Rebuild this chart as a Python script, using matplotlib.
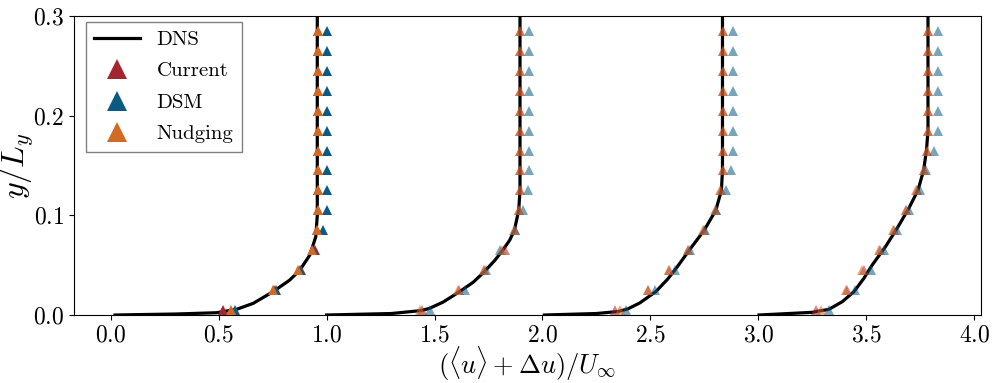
import numpy as np
import matplotlib
matplotlib.use("Agg")
import matplotlib.pyplot as plt

plt.rcParams['font.family'] = 'serif'
plt.rcParams['font.serif'] = ['cmr10']
plt.rcParams['mathtext.fontset'] = 'cm'
plt.rcParams['axes.formatter.use_mathtext'] = True

# LES sample heights (y/Ly)
y_les = [0.005, 0.025, 0.045, 0.065, 0.085, 0.105, 0.125, 0.145,
         0.165, 0.185, 0.205, 0.225, 0.245, 0.265, 0.285, 0.305]

# DNS profiles (shifted by Delta u)
dns_x1 = [0.02, 0.10, 0.30, 0.49, 0.583, 0.66, 0.752, 0.829, 0.876, 0.922, 0.950, 0.957, 0.957]
dns_y1 = [0.0, 0.0003, 0.001, 0.0023, 0.0057, 0.0117, 0.0234, 0.035, 0.045, 0.060, 0.0785, 0.100, 0.300]
dns_x2 = [1.0, 1.3, 1.44, 1.477, 1.54, 1.616, 1.68, 1.731, 1.78, 1.816, 1.848, 1.870, 1.890, 1.896, 1.896]
dns_y2 = [0.0, 0.0015, 0.0045, 0.0067, 0.013, 0.0234, 0.033, 0.0435, 0.055, 0.065, 0.075, 0.085, 0.105, 0.125, 0.300]
dns_x3 = [2.009, 2.25, 2.35, 2.394, 2.45, 2.525, 2.58, 2.625, 2.680, 2.749, 2.803, 2.829, 2.834, 2.834]
dns_y3 = [0.0, 0.0015, 0.0035, 0.006, 0.012, 0.0234, 0.036, 0.0485, 0.065, 0.085, 0.105, 0.125, 0.145, 0.300]
dns_x4 = [3.003, 3.250, 3.327, 3.389, 3.443, 3.489, 3.527, 3.589, 3.643, 3.697, 3.740, 3.766, 3.779, 3.786, 3.786]
dns_y4 = [0.0, 0.0027, 0.0057, 0.0134, 0.0234, 0.0368, 0.050, 0.0685, 0.087, 0.107, 0.1254, 0.1455, 0.1655, 0.185, 0.300]

# Current model
cur1 = [0.521, 0.758, 0.883, 0.945, 0.957, 0.958, 0.959, 0.959, 0.959, 0.959, 0.959, 0.959, 0.959, 0.959, 0.959, 0.959]
cur2 = [1.440, 1.612, 1.730, 1.826, 1.872, 1.892, 1.896, 1.897, 1.897, 1.897, 1.897, 1.897, 1.897, 1.897, 1.897, 1.897]
cur3 = [2.337, 2.490, 2.586, 2.674, 2.747, 2.802, 2.825, 2.836, 2.838, 2.838, 2.838, 2.838, 2.838, 2.838, 2.838, 2.838]
cur4 = [3.265, 3.410, 3.490, 3.565, 3.630, 3.686, 3.734, 3.768, 3.783, 3.788, 3.788, 3.788, 3.788, 3.788, 3.788, 3.788]

# DSM
dsm1 = [0.578, 0.767, 0.875, 0.937, 0.983, 1.004, 1.004, 1.004, 1.004, 1.004, 1.004, 1.004, 1.004, 1.004, 1.004, 1.004]
dsm2 = [1.477, 1.639, 1.739, 1.802, 1.872, 1.912, 1.935, 1.939, 1.939, 1.939, 1.939, 1.939, 1.939, 1.939, 1.939, 1.939]
dsm3 = [2.387, 2.522, 2.615, 2.683, 2.752, 2.806, 2.849, 2.872, 2.883, 2.883, 2.883, 2.883, 2.883, 2.883, 2.883, 2.883]
dsm4 = [3.327, 3.450, 3.520, 3.584, 3.643, 3.700, 3.751, 3.777, 3.812, 3.833, 3.833, 3.833, 3.833, 3.833, 3.833, 3.833]

# Nudging
nud1 = [0.555, 0.752, 0.868, 0.933, 0.955, 0.958, 0.959, 0.959, 0.959, 0.959, 0.959, 0.959, 0.959, 0.959, 0.959, 0.959]
nud2 = [1.435, 1.608, 1.727, 1.812, 1.870, 1.890, 1.896, 1.897, 1.897, 1.897, 1.897, 1.897, 1.897, 1.897, 1.897, 1.897]
nud3 = [2.359, 2.487, 2.584, 2.672, 2.745, 2.800, 2.823, 2.836, 2.838, 2.838, 2.838, 2.838, 2.838, 2.838, 2.838, 2.838]
nud4 = [3.289, 3.404, 3.481, 3.558, 3.624, 3.682, 3.731, 3.766, 3.781, 3.788, 3.788, 3.788, 3.788, 3.788, 3.788, 3.788]

c_cur = '#a3262f'
c_dsm = '#0b5a82'
c_nud = '#d06a24'

dns = [(dns_x1, dns_y1), (dns_x2, dns_y2), (dns_x3, dns_y3), (dns_x4, dns_y4)]
cur = [cur1, cur2, cur3, cur4]
dsm = [dsm1, dsm2, dsm3, dsm4]
nud = [nud1, nud2, nud3, nud4]
alphas = [1.0, 0.55, 0.55, 0.55]

fig = plt.figure(figsize=(9.96, 3.83), dpi=100)
ax = fig.add_axes([0.0743, 0.1775, 0.9103, 0.7807])

for i in range(4):
    lab = i == 0
    ax.plot(dns[i][0], dns[i][1], color='k', lw=2.3, zorder=2,
            label='DNS' if lab else None)
    ax.plot(cur[i], y_les, '^', color=c_cur, ms=7, mew=0, alpha=alphas[i], zorder=3,
            label='Current' if lab else None)
    ax.plot(dsm[i], y_les, '^', color=c_dsm, ms=7, mew=0, alpha=alphas[i], zorder=3,
            label='DSM' if lab else None)
    ax.plot(nud[i], y_les, '^', color=c_nud, ms=7, mew=0, alpha=alphas[i], zorder=3,
            label='Nudging' if lab else None)

ax.set_xlim(-0.17, 4.03)
ax.set_ylim(0, 0.3)
ax.set_xticks([0.0, 0.5, 1.0, 1.5, 2.0, 2.5, 3.0, 3.5, 4.0])
ax.set_yticks([0.0, 0.1, 0.2, 0.3])
ax.tick_params(labelsize=17)
ax.set_xlabel(r'$(\langle u\rangle + \Delta u)/U_\infty$', fontsize=19)
ax.set_ylabel(r'$y/L_y$', fontsize=23)
ax.xaxis.set_label_coords(0.5, -0.10)
ax.yaxis.set_label_coords(-0.042, 0.5)

leg = ax.legend(loc='upper left', fontsize=15, markerscale=2, fancybox=False,
                framealpha=1, edgecolor='#808080', bbox_to_anchor=(0.013, 0.98),
                borderaxespad=0, handlelength=2.2, labelspacing=0.62)
leg.get_frame().set_linewidth(1.0)

fig.savefig('out.png', dpi=100)
